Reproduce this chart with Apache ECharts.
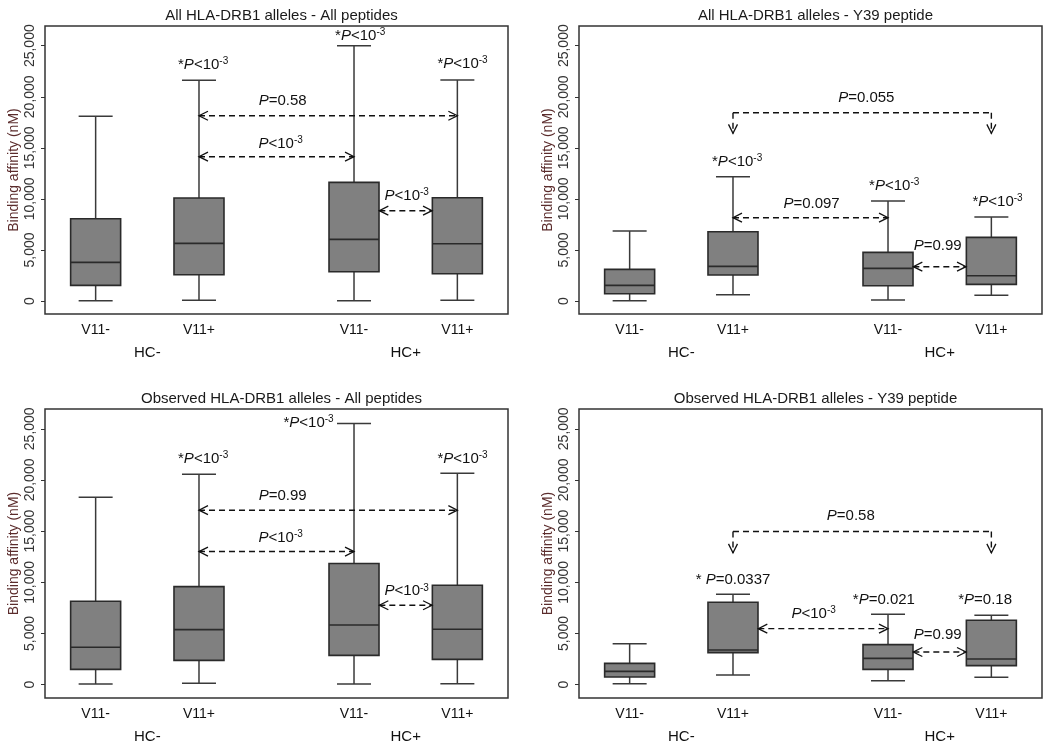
<!DOCTYPE html>
<html>
<head>
<meta charset="utf-8">
<script src="https://cdn.jsdelivr.net/npm/echarts@6/dist/echarts.min.js"></script>
<style>
html,body{margin:0;padding:0;background:#fff;}
#chart{width:1050px;height:751px;}
</style>
</head>
<body>
<div id="chart"></div>
<script>
// ---------- DATA ----------
const positions = [1, 2, 3.5, 4.5];
const xLabels = ['V11-', 'V11+', 'V11-', 'V11+'];
const groupPositions = [1.5, 4];
const groupLabels = ['HC-', 'HC+'];
const yTicks = [0, 5000, 10000, 15000, 20000, 25000];
const yTickLabels = ['0', '5,000', '10,000', '15,000', '20,000', '25,000'];
const yName = 'Binding affinity (nM)';

const titles = [
  'All HLA-DRB1 alleles - All peptides',
  'All HLA-DRB1 alleles - Y39 peptide',
  'Observed HLA-DRB1 alleles - All peptides',
  'Observed HLA-DRB1 alleles - Y39 peptide'
];

// [low whisker, Q1, median, Q3, high whisker] per group (HC- V11-, HC- V11+, HC+ V11-, HC+ V11+)
const boxes1 = [[30, 1534, 3786, 8061, 18081], [65, 2578, 5646, 10085, 21606], [30, 2872, 6038, 11619, 25000], [65, 2676, 5614, 10117, 21638]];
const boxes2 = [[30, 718, 1534, 3100, 6854], [620, 2546, 3394, 6789, 12174], [98, 1501, 3198, 4765, 9791], [555, 1632, 2480, 6234, 8225]];
const boxes3 = [[65, 1499, 3651, 8149, 18318], [130, 2379, 5378, 9583, 20567], [65, 2868, 5834, 11832, 25521], [98, 2477, 5411, 9713, 20665]];
const boxes4 = [[98, 750, 1304, 2086, 4009], [945, 3129, 3390, 8051, 8833], [391, 1499, 2575, 3911, 6877], [717, 1858, 2510, 6291, 6780]];

// annotation texts: [x, y, text]
const notes1 = [[2.04, 23100, '*P<10^-3'], [3.56, 25950, '*P<10^-3'], [4.55, 23270, '*P<10^-3'],
  [2.81, 19582, 'P=0.58'], [2.79, 15437, 'P<10^-3'], [4.01, 10280, 'P<10^-3']];
const notes2 = [[2.04, 13642, '*P<10^-3'], [3.56, 11292, '*P<10^-3'], [4.56, 9726, '*P<10^-3'],
  [3.29, 19909, 'P=0.055'], [2.76, 9497, 'P=0.097'], [3.98, 5418, 'P=0.99']];
const notes3 = [[2.04, 22034, '*P<10^-3'], [3.06, 25619, '*P<10^-3'], [4.55, 22034, '*P<10^-3'],
  [2.81, 18448, 'P=0.99'], [2.79, 14341, 'P<10^-3'], [4.01, 9126, 'P<10^-3']];
const notes4 = [[2.0, 10267, '* P=0.0337'], [3.46, 8311, '*P=0.021'], [4.44, 8311, '*P=0.18'],
  [3.14, 16493, 'P=0.58'], [2.78, 6910, 'P<10^-3'], [3.98, 4824, 'P=0.99']];

// double arrows: [x from, x to, y]
const arrows1 = [[2, 4.5, 18146], [2, 3.5, 14132], [3.745, 4.255, 8845]];
const arrows2 = [[2, 3.5, 8159], [3.745, 4.255, 3362]];
const arrows3 = [[2, 4.5, 17047], [2, 3.5, 13005], [3.745, 4.255, 7757]];
const arrows4 = [[2.245, 3.5, 5476], [3.745, 4.255, 3194]];

// brackets with down arrows: [x1, x2, y of bar, y of tips]
const brackets2 = [[2, 4.5, 18440, 16416]];
const brackets4 = [[2, 4.5, 14960, 12875]];

// ---------- CHART ----------
const FONT = '"Liberation Sans", Arial, sans-serif';
const panels = [
  {boxes: boxes1, notes: notes1, arrows: arrows1, brackets: []},
  {boxes: boxes2, notes: notes2, arrows: arrows2, brackets: brackets2},
  {boxes: boxes3, notes: notes3, arrows: arrows3, brackets: []},
  {boxes: boxes4, notes: notes4, arrows: arrows4, brackets: brackets4}
];
const grids = [
  {left: 45, top: 26, width: 463, height: 288},
  {left: 579, top: 26, width: 463, height: 288},
  {left: 45, top: 409, width: 463, height: 289},
  {left: 579, top: 409, width: 463, height: 289}
];
const yMins = [-1270, -1270, -1300, -1300];
const Y_MAX = 26930, X_MIN = 0.51, X_MAX = 4.99;

function toRich(s) {
  return s.replace(/P/g, '{i|P}').replace(/\^(-?\d+)/g, '{s|$1}');
}
const richStyles = {
  i: {fontStyle: 'italic', fontSize: 15, fontFamily: FONT, fill: '#111', lineHeight: 17},
  s: {fontSize: 10, fontFamily: FONT, fill: '#111', verticalAlign: 'top', lineHeight: 10}
};

const DARK = '#2a2a2a';
function boxRender(params, api) {
  const x = api.value(0);
  const cx = api.coord([x, 0])[0];
  const yLo = api.coord([x, api.value(1)])[1];
  const yQ1 = api.coord([x, api.value(2)])[1];
  const yMd = api.coord([x, api.value(3)])[1];
  const yQ3 = api.coord([x, api.value(4)])[1];
  const yHi = api.coord([x, api.value(5)])[1];
  const ls = {stroke: '#3a3a3a', lineWidth: 1.5};
  return {type: 'group', children: [
    {type: 'line', shape: {x1: cx, y1: yHi, x2: cx, y2: yQ3}, style: ls},
    {type: 'line', shape: {x1: cx, y1: yQ1, x2: cx, y2: yLo}, style: ls},
    {type: 'line', shape: {x1: cx - 17, y1: yHi, x2: cx + 17, y2: yHi}, style: ls},
    {type: 'line', shape: {x1: cx - 17, y1: yLo, x2: cx + 17, y2: yLo}, style: ls},
    {type: 'rect', shape: {x: cx - 25, y: yQ3, width: 50, height: yQ1 - yQ3}, style: {fill: '#808080', stroke: DARK, lineWidth: 1.6}},
    {type: 'line', shape: {x1: cx - 25, y1: yMd, x2: cx + 25, y2: yMd}, style: {stroke: DARK, lineWidth: 1.6}}
  ]};
}

function noteRender(notes) {
  return function (params, api) {
    const p = api.coord([api.value(0), api.value(1)]);
    return {type: 'text', x: p[0], y: p[1], style: {
      text: toRich(notes[params.dataIndex][2]),
      fill: '#111', fontSize: 15, fontFamily: FONT, lineHeight: 17,
      align: 'center', verticalAlign: 'middle', rich: richStyles
    }};
  };
}

const DASH = {stroke: '#111', lineWidth: 1.4, lineDash: [6, 4]};
const HEAD = {stroke: '#111', lineWidth: 1.3, fill: null};
function arrowRender(params, api) {
  const a = api.coord([api.value(0), api.value(2)]);
  const b = api.coord([api.value(1), api.value(2)]);
  const y = a[1];
  return {type: 'group', children: [
    {type: 'line', shape: {x1: a[0], y1: y, x2: b[0], y2: y}, style: DASH},
    {type: 'polyline', shape: {points: [[a[0] + 9, y - 4.5], [a[0], y], [a[0] + 9, y + 4.5]]}, style: HEAD},
    {type: 'polyline', shape: {points: [[b[0] - 9, y - 4.5], [b[0], y], [b[0] - 9, y + 4.5]]}, style: HEAD}
  ]};
}
function bracketRender(params, api) {
  const a = api.coord([api.value(0), api.value(2)]);
  const b = api.coord([api.value(1), api.value(2)]);
  const tip = api.coord([api.value(0), api.value(3)])[1];
  const y = a[1];
  const kids = [{type: 'line', shape: {x1: a[0], y1: y, x2: b[0], y2: y}, style: DASH}];
  [a[0], b[0]].forEach(function (x) {
    kids.push({type: 'line', shape: {x1: x, y1: y, x2: x, y2: tip}, style: {stroke: '#111', lineWidth: 1.4, lineDash: [6, 4]}});
    kids.push({type: 'polyline', shape: {points: [[x - 4.5, tip - 9], [x, tip], [x + 4.5, tip - 9]]}, style: HEAD});
  });
  return {type: 'group', children: kids};
}

const option = {
  backgroundColor: '#fff',
  animation: false,
  title: titles.map(function (t, i) {
    return {text: t, left: grids[i].left + grids[i].width / 2, top: grids[i].top - 23, textAlign: 'center',
      textStyle: {fontSize: 15, fontWeight: 'normal', color: '#1a1a1a', fontFamily: FONT}};
  }),
  grid: grids.map(function (g) {
    return Object.assign({show: true, borderColor: '#333', borderWidth: 1.5, backgroundColor: 'transparent', containLabel: false}, g);
  }),
  xAxis: [],
  yAxis: [],
  series: []
};

grids.forEach(function (g, i) {
  option.xAxis.push({
    type: 'value', gridIndex: i, position: 'bottom', min: X_MIN, max: X_MAX,
    axisLine: {show: false}, axisTick: {show: false}, splitLine: {show: false},
    axisLabel: {customValues: positions, margin: 9, fontSize: 14, color: '#111', fontFamily: FONT,
      formatter: function (v) { return xLabels[positions.indexOf(v)]; }}
  });
  option.xAxis.push({
    type: 'value', gridIndex: i, position: 'bottom', offset: 0, min: X_MIN, max: X_MAX,
    axisLine: {show: false}, axisTick: {show: false}, splitLine: {show: false},
    axisLabel: {customValues: groupPositions, margin: 31, fontSize: 15, color: '#111', fontFamily: FONT,
      formatter: function (v) { return groupLabels[groupPositions.indexOf(v)]; }}
  });
  option.yAxis.push({
    type: 'value', gridIndex: i, min: yMins[i], max: Y_MAX,
    axisLine: {show: false},
    axisTick: {show: true, customValues: yTicks, length: 4, lineStyle: {color: '#333', width: 1}},
    splitLine: {show: false},
    axisLabel: {customValues: yTicks, rotate: 90, margin: 8, fontSize: 14, color: '#333', fontFamily: FONT,
      formatter: function (v) { return yTickLabels[yTicks.indexOf(v)]; }},
    name: yName, nameLocation: 'middle', nameGap: 24, nameRotate: 90,
    nameTextStyle: {fontSize: 14, color: '#5b2c2c', fontFamily: FONT}
  });
  const P = panels[i];
  option.series.push({
    type: 'custom', xAxisIndex: 2 * i, yAxisIndex: i, clip: false,
    data: P.boxes.map(function (b, k) { return [positions[k]].concat(b); }),
    encode: {x: 0, y: [1, 2, 3, 4, 5]},
    renderItem: boxRender
  });
  option.series.push({
    type: 'custom', xAxisIndex: 2 * i, yAxisIndex: i, clip: false,
    data: P.arrows, encode: {x: [0, 1], y: 2}, renderItem: arrowRender
  });
  if (P.brackets.length) {
    option.series.push({
      type: 'custom', xAxisIndex: 2 * i, yAxisIndex: i, clip: false,
      data: P.brackets, encode: {x: [0, 1], y: [2, 3]}, renderItem: bracketRender
    });
  }
  option.series.push({
    type: 'custom', xAxisIndex: 2 * i, yAxisIndex: i, clip: false,
    data: P.notes.map(function (n) { return [n[0], n[1]]; }), encode: {x: 0, y: 1},
    renderItem: noteRender(P.notes)
  });
});

const chart = echarts.init(document.getElementById('chart'), null, {renderer: 'canvas'});
chart.setOption(option);
</script>
</body>
</html>
